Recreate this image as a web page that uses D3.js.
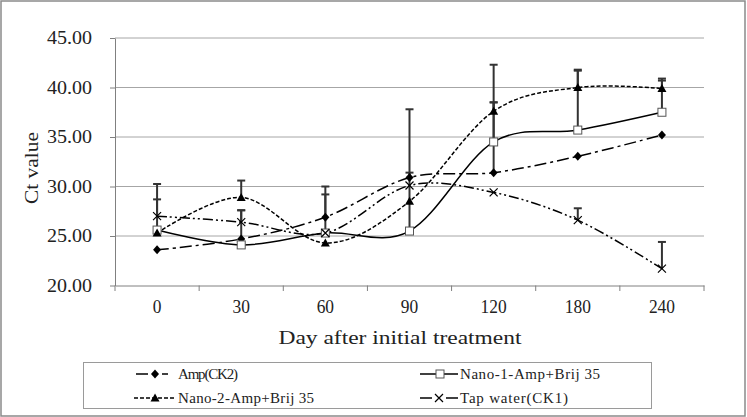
<!DOCTYPE html>
<html><head><meta charset="utf-8">
<script src="https://cdn.jsdelivr.net/npm/d3@7"></script>
<style>
body{margin:0;background:#fff}
svg{display:block}
text{font-family:"Liberation Serif","DejaVu Serif",serif;fill:#222}
</style></head><body>
<script>
// ---- data ----
const days = ["0","30","60","90","120","180","240"];
const amp   = [23.6, 24.7, 26.9, 30.9, 31.4, 33.05, 35.2];
const nano1 = [25.6, 24.1, 25.3, 25.5, 34.5, 35.7, 37.5];
const nano2 = [25.3, 28.9, 24.3, 28.5, 37.6, 40.0, 39.9];
const tap   = [27.0, 26.4, 25.3, 30.1, 29.4, 26.6, 21.7];
const ampErr   = [0, 2.9, 3.1, 0.5, 10.9, 0, 0];
const nano1Err = [0, 0, 0, 12.3, 4.0, 6.1, 3.4];
const nano2Err = [3.4, 1.7, 0, 0, 0.9, 1.7, 0.8];
const tapErr   = [3.25, 1.2, 3.9, 0, 0, 1.2, 2.7];
const yTicks = [20, 25, 30, 35, 40, 45];
const seriesNames = ["Amp(CK2)", "Nano-1-Amp+Brij 35", "Nano-2-Amp+Brij 35", "Tap water(CK1)"];

const W = 747, H = 417;
const svg = d3.select("body").append("svg").attr("width", W).attr("height", H);

// outer border
svg.append("rect").attr("x",1).attr("y",1).attr("width",744).attr("height",415)
  .attr("fill","#fff").attr("stroke","#8a8a8a").attr("stroke-width",1.5);

const x = d3.scaleBand().domain(days).range([115, 704]);
const y = d3.scaleLinear().domain([20, 45]).range([285.5, 38]);
const cx = d => x(d) + x.bandwidth()/2;

// gridlines
svg.append("g").selectAll("line").data(yTicks.filter(v => v > 20)).join("line")
  .attr("x1",115).attr("x2",704).attr("y1",d=>y(d)).attr("y2",d=>y(d))
  .attr("stroke","#a6a6a6").attr("stroke-width",1);

// y axis
const yAxis = svg.append("g").attr("transform","translate(115,0)")
  .call(d3.axisLeft(y).tickValues(yTicks).tickSize(5).tickSizeOuter(0).tickPadding(18).tickFormat(d3.format(".2f")));
yAxis.select(".domain").attr("stroke","#808080");
yAxis.selectAll(".tick line").attr("stroke","#808080");
yAxis.selectAll(".tick text").attr("font-size",18).attr("fill","#222")
  .attr("font-family",'"Liberation Serif",serif')
  .attr("textLength",45).attr("lengthAdjust","spacingAndGlyphs");

// x axis
const xAxis = svg.append("g").attr("transform","translate(0,285.5)")
  .call(d3.axisBottom(x).tickSize(0).tickSizeOuter(0).tickPadding(15));
xAxis.select(".domain").attr("stroke","#808080");
xAxis.selectAll(".tick text").attr("font-size",18).attr("fill","#222")
  .attr("font-family",'"Liberation Serif",serif')
  .each(function(d){ d3.select(this).attr("textLength", d.length*8.7).attr("lengthAdjust","spacingAndGlyphs"); });
const edges = days.map(d => x(d)).concat([x.range()[1]]);
svg.append("g").selectAll("line").data(edges).join("line")
  .attr("x1",d=>d).attr("x2",d=>d).attr("y1",285.5).attr("y2",291)
  .attr("stroke","#808080");

// axis titles
svg.append("text").attr("x",400).attr("y",344).attr("text-anchor","middle")
  .attr("font-size",18).attr("textLength",243).attr("lengthAdjust","spacingAndGlyphs")
  .text("Day after initial treatment");
svg.append("text").attr("transform","translate(38,168) rotate(-90)").attr("text-anchor","middle")
  .attr("font-size",18).attr("textLength",72).attr("lengthAdjust","spacingAndGlyphs")
  .text("Ct value");

// marker drawing
function marker(g, type, px, py){
  if(type==="diamond"){
    g.append("path").attr("d",`M${px},${py-4.5}L${px+4},${py}L${px},${py+4.5}L${px-4},${py}Z`).attr("fill","#000");
  } else if(type==="square"){
    g.append("rect").attr("x",px-4).attr("y",py-4).attr("width",8).attr("height",8)
      .attr("fill","#fff").attr("stroke","#555").attr("stroke-width",1);
  } else if(type==="triangle"){
    g.append("path").attr("d",`M${px},${py-4.5}L${px+4.5},${py+3.5}L${px-4.5},${py+3.5}Z`).attr("fill","#000");
  } else {
    g.append("path").attr("d",`M${px-4},${py-4}L${px+4},${py+4}M${px+4},${py-4}L${px-4},${py+4}`)
      .attr("stroke","#000").attr("stroke-width",1.2).attr("fill","none");
  }
}

const series = [
  {name:seriesNames[0], vals:amp,   err:ampErr,   dash:"12,4,3,4",      type:"diamond"},
  {name:seriesNames[1], vals:nano1, err:nano1Err, dash:null,            type:"square"},
  {name:seriesNames[2], vals:nano2, err:nano2Err, dash:"4,2",           type:"triangle"},
  {name:seriesNames[3], vals:tap,   err:tapErr,   dash:"10,3,2,3,2,3",  type:"cross"}
];

const line = d3.line().x((d,i)=>cx(days[i])).y(d=>y(d)).curve(d3.curveCardinal.tension(0));

// lines
series.forEach(s => {
  svg.append("path").attr("d", line(s.vals)).attr("fill","none")
    .attr("stroke","#000").attr("stroke-width",1.5)
    .attr("stroke-dasharray", s.dash);
});

// error bars
const eg = svg.append("g");
series.forEach(s => {
  s.vals.forEach((v,i) => {
    const e = s.err[i]; if(!e) return;
    const px = cx(days[i]);
    eg.append("line").attr("x1",px).attr("x2",px).attr("y1",y(v)).attr("y2",y(v+e))
      .attr("stroke","#333").attr("stroke-width",2);
    eg.append("line").attr("x1",px-4).attr("x2",px+4).attr("y1",y(v+e)).attr("y2",y(v+e))
      .attr("stroke","#333").attr("stroke-width",2);
  });
});

// markers
const mg = svg.append("g");
series.forEach(s => s.vals.forEach((v,i) => marker(mg, s.type, cx(days[i]), y(v))));

// legend
svg.append("rect").attr("x",83.5).attr("y",362.5).attr("width",568).attr("height",46)
  .attr("fill","#fff").attr("stroke","#9a9a9a").attr("stroke-width",1);
const legPos = [
  {x0:136, x1:168, mx:155, tx:178, cy:374, w:60},
  {x0:420, x1:458, mx:440, tx:460, cy:374, w:140},
  {x0:134, x1:175, mx:155, tx:178, cy:398, w:136},
  {x0:420, x1:458, mx:439, tx:460, cy:398, w:108}
];
const lg = svg.append("g");
series.forEach((s,k) => {
  const p = legPos[k];
  if (s.type==="diamond" || s.type==="cross") {
    [[p.x0, p.mx-7],[p.mx+7, p.x1]].forEach(([a,b]) =>
      lg.append("line").attr("x1",a).attr("x2",b).attr("y1",p.cy).attr("y2",p.cy)
        .attr("stroke","#000").attr("stroke-width",1.5));
  } else {
    lg.append("line").attr("x1",p.x0).attr("x2",p.x1).attr("y1",p.cy).attr("y2",p.cy)
      .attr("stroke","#000").attr("stroke-width",1.5).attr("stroke-dasharray", s.dash);
  }
  marker(lg, s.type, p.mx, p.cy);
  lg.append("text").attr("x",p.tx).attr("y",p.cy+5).attr("font-size",15)
    .attr("textLength",p.w).attr("lengthAdjust","spacing").text(s.name);
});
</script>
</body></html>
